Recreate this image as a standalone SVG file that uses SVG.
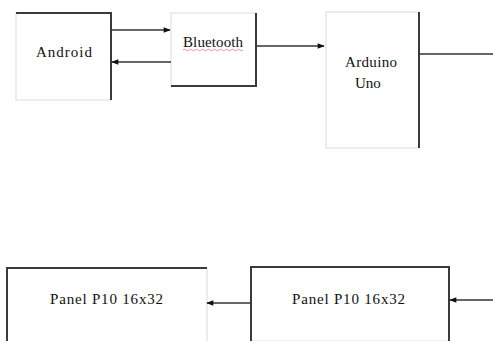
<svg xmlns="http://www.w3.org/2000/svg" width="493" height="341" viewBox="0 0 493 341">
<style>
.lt{stroke:#dcdcdc;stroke-width:1;fill:none}
.dk{stroke:#3a3a3a;stroke-width:2;fill:none}
.cn{stroke:#333;stroke-width:1.5;fill:none}
.tx{font-family:"Liberation Serif","Times New Roman",serif;font-size:15px;fill:#111;text-anchor:start}
</style>
<defs>
<marker id="ah" viewBox="0 0 10 10" refX="9" refY="5" markerWidth="8" markerHeight="7" orient="auto" markerUnits="userSpaceOnUse">
<path d="M0,1 L10,5 L0,9 Z" fill="#111"/>
</marker>
</defs>
<rect width="493" height="341" fill="#fff"/>
<g id="android">
<rect class="lt" x="16" y="13" width="95" height="87"/>
<path class="dk" d="M16,13 H111 V100"/>
<text class="tx" x="36" y="57" textLength="56">Android</text>
</g>
<g id="bluetooth">
<rect class="lt" x="171" y="13" width="85" height="73"/>
<path class="dk" d="M256,13 V86 H171"/>
<text class="tx" x="183" y="47" textLength="60">Bluetooth</text>
<path d="M183,50 q1.5,-1.5 3,0 t3,0 t3,0 t3,0 t3,0 t3,0 t3,0 t3,0 t3,0 t3,0 t3,0 t3,0 t3,0 t3,0 t3,0 t3,0 t3,0 t3,0 t3,0 t3,0" stroke="#e07a8a" stroke-width="0.8" fill="none"/>
</g>
<g id="arduino">
<rect class="lt" x="326" y="12" width="93" height="136"/>
<path class="dk" d="M419,12 V148"/>
<text class="tx" x="345" y="67" textLength="52">Arduino</text>
<text class="tx" x="355" y="88">Uno</text>
</g>
<g id="panel1">
<path class="lt" d="M207,268 V341"/>
<path class="dk" d="M7,341 V268 H207"/>
<text class="tx" x="50" y="304" textLength="113">Panel P10 16x32</text>
</g>
<g id="panel2">
<path class="lt" d="M251,341 H449"/>
<path class="dk" d="M251,341 V267 H449 V341"/>
<text class="tx" x="292" y="304" textLength="113">Panel P10 16x32</text>
</g>
<g id="connectors">
<path class="cn" d="M111,30 H170" marker-end="url(#ah)"/>
<path class="cn" d="M171,62 H112" marker-end="url(#ah)"/>
<path class="cn" d="M256,46 H324" marker-end="url(#ah)"/>
<path class="cn" d="M419,54 H493"/>
<path class="cn" d="M493,300 H450" marker-end="url(#ah)"/>
<path class="cn" d="M251,303 H207" marker-end="url(#ah)"/>
</g>
</svg>
